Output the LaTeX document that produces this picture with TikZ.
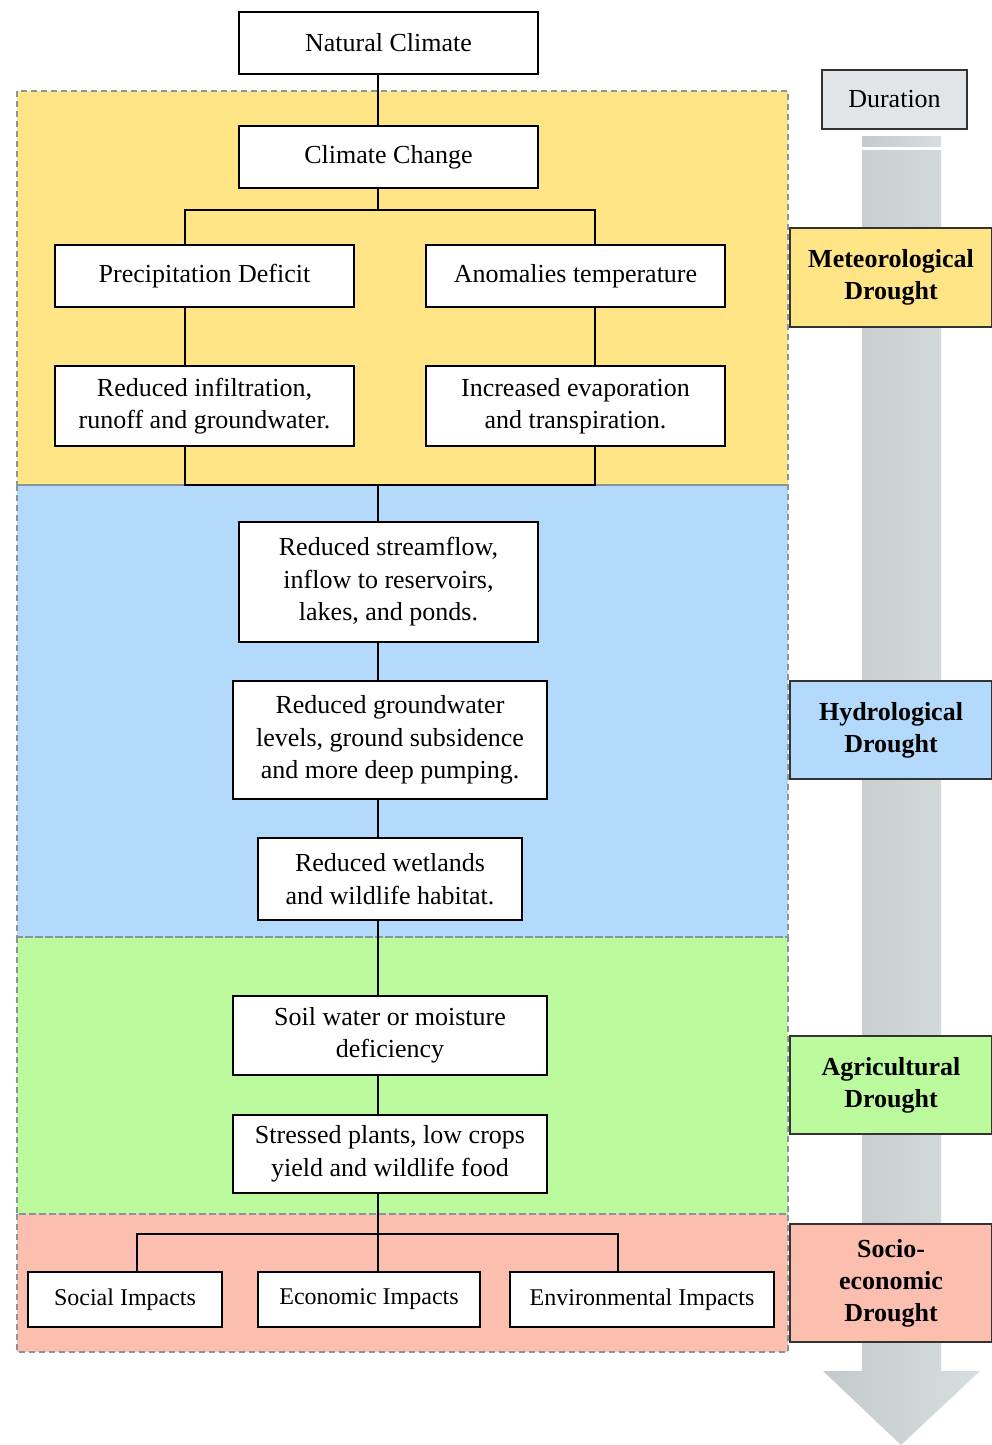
\documentclass[tikz,border=0pt]{standalone}
\usepackage{fontspec}
\setmainfont{Liberation Serif}
\definecolor{bandY}{RGB}{255,229,133}
\definecolor{bandB}{RGB}{179,217,252}
\definecolor{bandG}{RGB}{187,250,157}
\definecolor{bandR}{RGB}{252,190,174}
\definecolor{dashc}{RGB}{135,150,155}
\definecolor{durfill}{RGB}{226,229,231}
\definecolor{arrL}{RGB}{196,202,204}
\definecolor{arrR}{RGB}{216,222,224}
\tikzset{
  band/.style={draw=dashc, line width=1.6pt, dash pattern=on 6pt off 4pt},
  box/.style={draw=black, fill=white, line width=1.6pt, align=center, inner sep=0pt,
    font=\fontsize{26}{32.5}\selectfont},
  ibox/.style={box, font=\fontsize{24}{28}\selectfont},
  lab/.style={draw=black!80, line width=1.2pt, align=center, inner sep=0pt,
    font=\fontsize{26}{32}\selectfont\bfseries},
  conn/.style={draw=black, line width=1.6pt}
}
\begin{document}
\begin{tikzpicture}[x=1pt,y=-1pt]
\useasboundingbox (0,0) rectangle (992,1445);
% bands
\fill[bandY] (17,91) rectangle (788,485);
\fill[bandB] (17,485) rectangle (788,937);
\fill[bandG] (17,937) rectangle (788,1214);
\fill[bandR] (17,1214) rectangle (788,1352);
\draw[band] (17,91) rectangle (788,485);
\draw[band] (17,485) rectangle (788,937);
\draw[band] (17,937) rectangle (788,1214);
\draw[band] (17,1214) rectangle (788,1352);
% duration arrow
\shade[left color=arrL, right color=arrR] (862,136) rectangle (941,146);
\shade[left color=arrL, right color=arrR] (862,150) -- (941,150) -- (941,1371) -- (980,1371) -- (901,1445) -- (823,1371) -- (862,1371) -- cycle;
\node[lab, fill=durfill, font=\fontsize{26}{32}\selectfont, minimum width=145pt, minimum height=59pt] (dur) at (894.5,99.5) {Duration};
\node[lab, fill=bandY, minimum width=202pt, minimum height=99pt] (met) at (891,277.5) {Meteorological\\Drought};
\node[lab, fill=bandB, minimum width=202pt, minimum height=98pt] (hyd) at (891,730) {Hydrological\\Drought};
\node[lab, fill=bandG, minimum width=202pt, minimum height=98pt] (agr) at (891,1085) {Agricultural\\Drought};
\node[lab, fill=bandR, minimum width=202pt, minimum height=118pt] (soc) at (891,1283) {Socio-\\economic\\Drought};
% boxes
\node[box, minimum width=299pt, minimum height=62pt] (nc) at (388.5,43) {Natural Climate};
\node[box, minimum width=299pt, minimum height=62pt] (cc) at (388.5,157) {Climate Change};
\node[box, minimum width=299pt, minimum height=62pt] (pd) at (204.5,276) {Precipitation Deficit};
\node[box, minimum width=299pt, minimum height=62pt] (at) at (575.5,276) {Anomalies temperature};
\node[box, minimum width=299pt, minimum height=80pt] (ri) at (204.5,406) {Reduced infiltration,\\runoff and groundwater.};
\node[box, minimum width=299pt, minimum height=80pt] (ie) at (575.5,406) {Increased evaporation\\and transpiration.};
\node[box, minimum width=299pt, minimum height=120pt] (rs) at (388.5,582) {Reduced streamflow,\\inflow to reservoirs,\\lakes, and ponds.};
\node[box, minimum width=314pt, minimum height=118pt] (rg) at (390,740) {Reduced groundwater\\levels, ground subsidence\\and more deep pumping.};
\node[box, minimum width=264pt, minimum height=82pt] (rw) at (390,879) {Reduced wetlands\\and wildlife habitat.};
\node[box, minimum width=314pt, minimum height=79pt] (sw) at (390,1035.5) {Soil water or moisture\\deficiency};
\node[box, minimum width=314pt, minimum height=78pt] (sp) at (390,1154) {Stressed plants, low crops\\yield and wildlife food};
\node[ibox, minimum width=194pt, minimum height=55pt] (si) at (125,1299.5) {Social Impacts};
\node[ibox, minimum width=222pt, minimum height=55pt] (ei) at (369,1299.5) {Economic Impacts};
\node[ibox, minimum width=264pt, minimum height=55pt] (en) at (642,1299.5) {Environmental Impacts};
% connectors
\coordinate (b1) at (378,210);
\coordinate (b1l) at (185,210);
\coordinate (b1r) at (595,210);
\coordinate (m1) at (378,485);
\coordinate (m1l) at (185,485);
\coordinate (m1r) at (595,485);
\coordinate (b2) at (378,1234);
\coordinate (b2l) at (137,1234);
\coordinate (b2r) at (618,1234);
\draw[conn] (nc.south -| b1) -- (cc.north -| b1);
\draw[conn] (cc.south -| b1) -- (b1);
\draw[conn] (b1l |- pd.north) -- (b1l) -- (b1r) -- (b1r |- at.north);
\draw[conn] (b1l |- pd.south) -- (b1l |- ri.north);
\draw[conn] (b1r |- at.south) -- (b1r |- ie.north);
\draw[conn] (m1l |- ri.south) -- (m1l) -- (m1r) -- (m1r |- ie.south);
\draw[conn] (m1) -- (m1 |- rs.north);
\draw[conn] (m1 |- rs.south) -- (m1 |- rg.north);
\draw[conn] (m1 |- rg.south) -- (m1 |- rw.north);
\draw[conn] (m1 |- rw.south) -- (m1 |- sw.north);
\draw[conn] (m1 |- sw.south) -- (m1 |- sp.north);
\draw[conn] (b2 |- sp.south) -- (b2 |- ei.north);
\draw[conn] (b2l |- si.north) -- (b2l) -- (b2r) -- (b2r |- en.north);
\end{tikzpicture}
\end{document}
